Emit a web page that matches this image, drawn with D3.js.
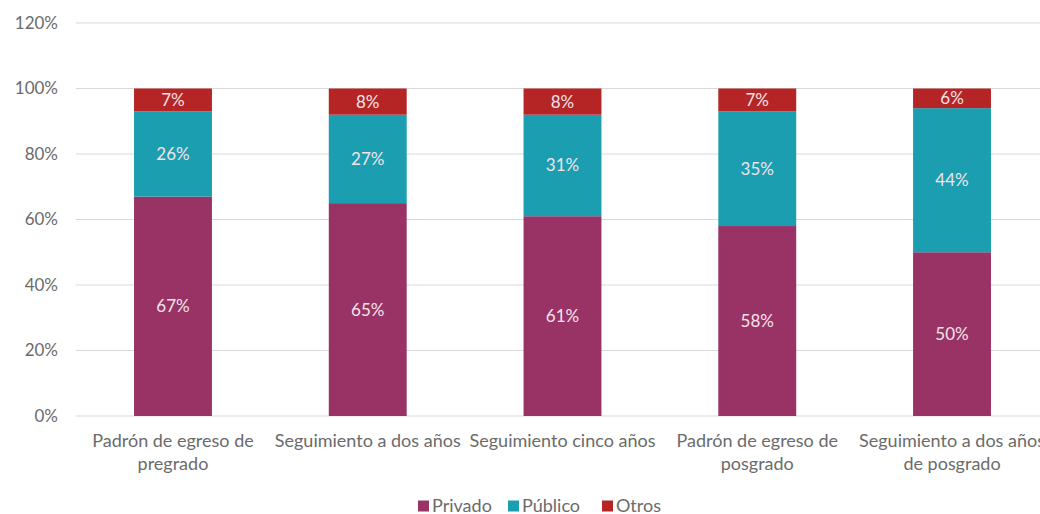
<!DOCTYPE html>
<html>
<head>
<meta charset="utf-8">
<script src="https://cdn.jsdelivr.net/npm/d3@7"></script>
<style>
  body { margin: 0; background: #fff; }
  svg { font-family: Lato, "Open Sans", sans-serif; }
</style>
</head>
<body>
<div id="chart"></div>
<script>
var categories = [
	["Padrón de egreso de", "pregrado"],
	["Seguimiento a dos años"],
	["Seguimiento cinco años"],
	["Padrón de egreso de", "posgrado"],
	["Seguimiento a dos años", "de posgrado"]
];
var privado = [67, 65, 61, 58, 50];
var publico = [26, 27, 31, 35, 44];
var otros = [7, 8, 8, 7, 6];
var seriesNames = ["Privado", "Público", "Otros"];
var seriesColors = ["#993366", "#1b9eb0", "#b52525"];
var yTicks = [0, 20, 40, 60, 80, 100, 120];

var width = 1040, height = 514;
var plotLeft = 75.6, plotRight = 1049.4, plotTop = 23, plotBottom = 416;

var rows = categories.map(function (c, i) {
	return { key: i, Privado: privado[i], "Público": publico[i], Otros: otros[i] };
});

var svg = d3.select("#chart").append("svg")
	.attr("width", width)
	.attr("height", height);

var x = d3.scaleBand()
	.domain(d3.range(categories.length))
	.range([plotLeft, plotRight])
	.paddingInner(0.6)
	.paddingOuter(0.3);

var y = d3.scaleLinear()
	.domain([0, 120])
	.range([plotBottom, plotTop]);

var color = d3.scaleOrdinal().domain(seriesNames).range(seriesColors);

// gridlines
svg.append("g").selectAll("line")
	.data(yTicks)
	.enter().append("line")
	.attr("x1", plotLeft).attr("x2", plotRight)
	.attr("y1", function (d) { return y(d); })
	.attr("y2", function (d) { return y(d); })
	.attr("stroke", "#d9d9d9")
	.attr("stroke-width", 1);

// y labels
svg.append("g").selectAll("text")
	.data(yTicks)
	.enter().append("text")
	.attr("x", 58)
	.attr("y", function (d) { return y(d); })
	.attr("dy", "0.35em")
	.attr("text-anchor", "end")
	.attr("font-size", 17)
	.attr("fill", "#6b6b6b")
	.text(function (d) { return d + "%"; });

var stack = d3.stack().keys(seriesNames);
var layers = stack(rows);

var layer = svg.append("g").selectAll("g")
	.data(layers)
	.enter().append("g")
	.attr("fill", function (d) { return color(d.key); });

layer.selectAll("rect")
	.data(function (d) { return d; })
	.enter().append("rect")
	.attr("x", function (d) { return x(d.data.key); })
	.attr("width", x.bandwidth())
	.attr("y", function (d) { return y(d[1]); })
	.attr("height", function (d) { return y(d[0]) - y(d[1]); });

// value labels
layer.selectAll("text")
	.data(function (d) { return d; })
	.enter().append("text")
	.attr("x", function (d) { return x(d.data.key) + x.bandwidth() / 2; })
	.attr("y", function (d) { return y((d[0] + d[1]) / 2); })
	.attr("dy", "0.35em")
	.attr("text-anchor", "middle")
	.attr("font-size", 17)
	.attr("fill", "#f3e3ea")
	.text(function (d) { return (d[1] - d[0]) + "%"; });

// category labels
var cat = svg.append("g").selectAll("text")
	.data(categories)
	.enter().append("text")
	.attr("x", function (d, i) { return x(i) + x.bandwidth() / 2; })
	.attr("y", 447)
	.attr("text-anchor", "middle")
	.attr("font-size", 18)
	.attr("fill", "#6b6b6b");

cat.selectAll("tspan")
	.data(function (d) { return d; })
	.enter().append("tspan")
	.attr("x", function () { return d3.select(this.parentNode).attr("x"); })
	.attr("dy", function (d, i) { return i === 0 ? 0 : 23; })
	.text(function (d) { return d; });

// legend
var legendX = [418, 508, 602];
var legend = svg.append("g").selectAll("g")
	.data(seriesNames)
	.enter().append("g")
	.attr("transform", function (d, i) { return "translate(" + legendX[i] + ",506)"; });

legend.append("rect")
	.attr("x", 0).attr("y", -5.5)
	.attr("width", 11).attr("height", 11)
	.attr("fill", function (d) { return color(d); });

legend.append("text")
	.attr("x", 14)
	.attr("dy", "0.35em")
	.attr("font-size", 18)
	.attr("fill", "#6b6b6b")
	.text(function (d) { return d; });
</script>
</body>
</html>
